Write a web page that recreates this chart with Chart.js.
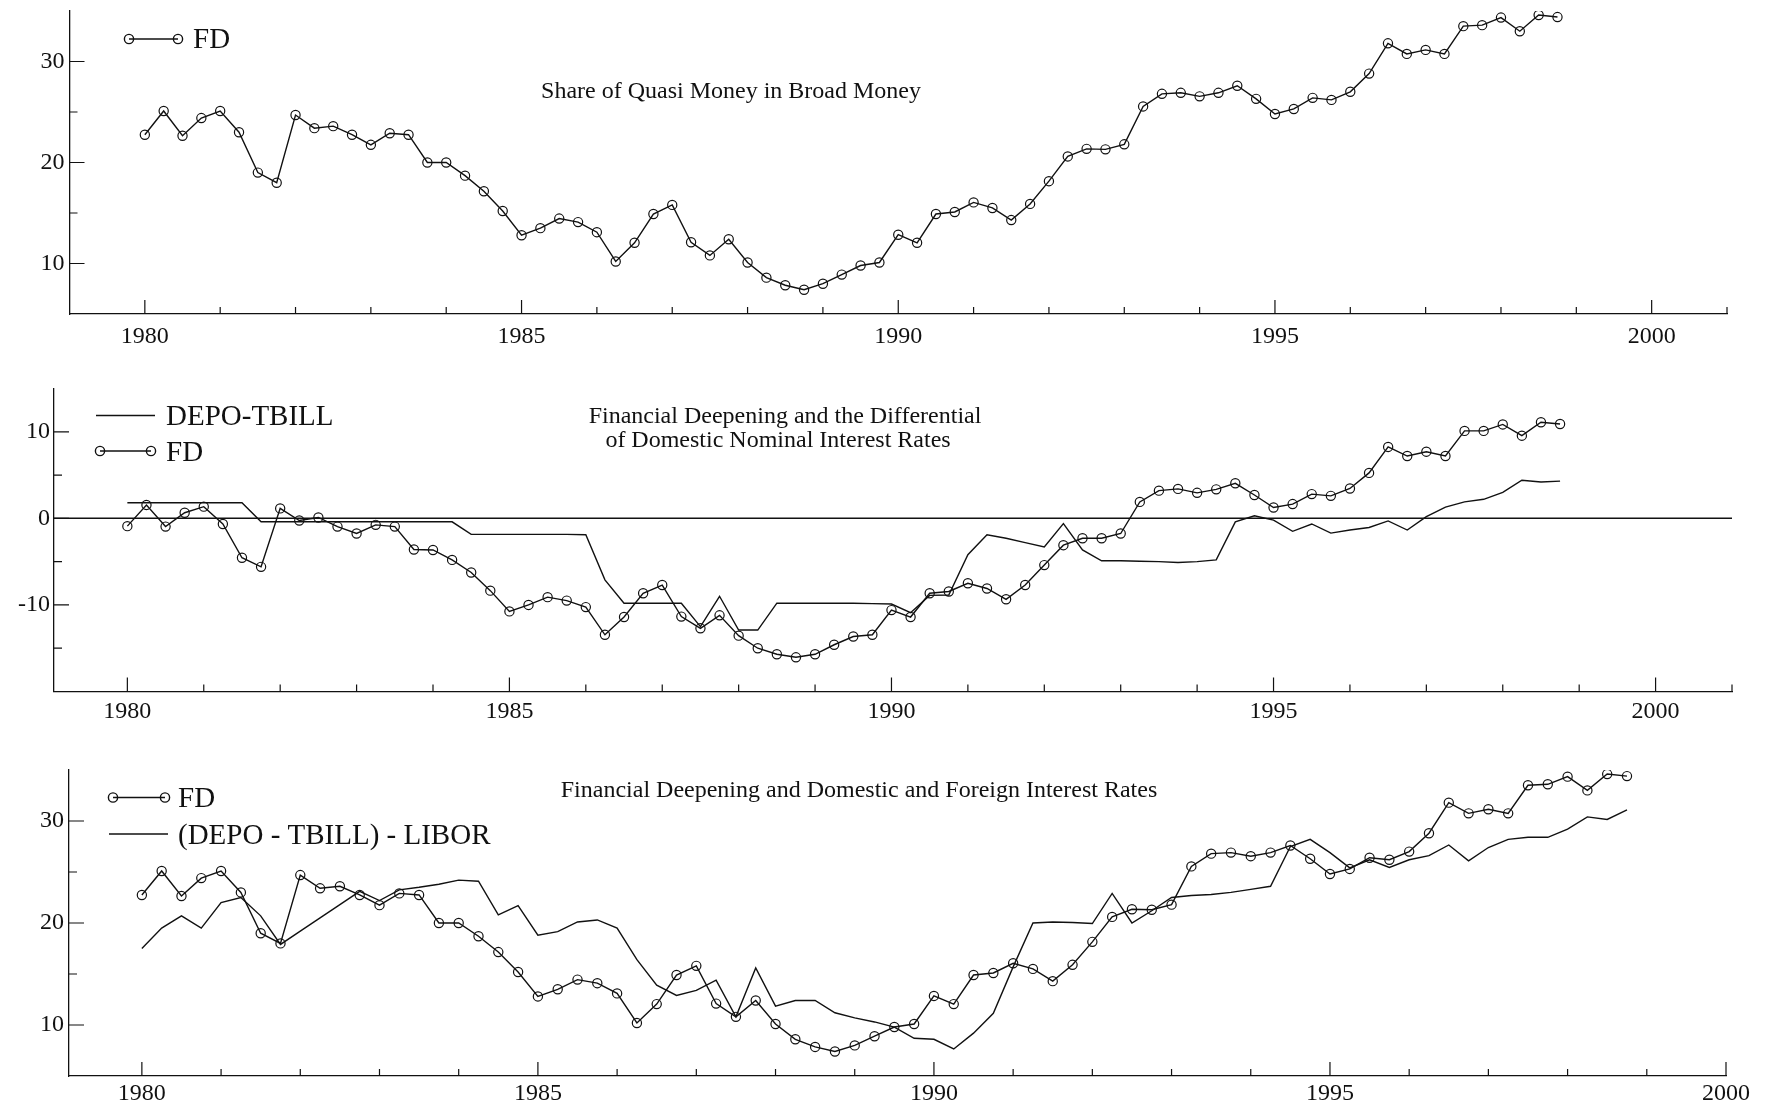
<!DOCTYPE html>
<html>
<head>
<meta charset="utf-8">
<title>Financial Deepening</title>
<script src="https://cdn.jsdelivr.net/npm/chart.js@4.4.1/dist/chart.umd.min.js"></script>
<style>
  html, body { margin: 0; padding: 0; background: #fff; }
  body { width: 1769px; height: 1112px; position: relative; overflow: hidden; }
  canvas { position: absolute; left: 0; }
</style>
</head>
<body>
<canvas id="share" width="1769" height="370" style="top:0px"></canvas>
<canvas id="differential" width="1769" height="380" style="top:370px"></canvas>
<canvas id="foreign" width="1769" height="362" style="top:750px"></canvas>

<script>
// quarterly observations, 1980Q1 - 1998Q4
const years = [1980, 1981, 1982, 1983, 1984, 1985, 1986, 1987, 1988, 1989,
               1990, 1991, 1992, 1993, 1994, 1995, 1996, 1997, 1998];
const quarterStep = [0, 0.25, 0.5, 0.75];

// FD : share of quasi money in broad money (top and bottom panels)
const fdShare = [
  22.75, 25.1, 22.65, 24.4,
  25.1, 23.0, 19.0, 18.0,
  24.7, 23.4, 23.6, 22.75,
  21.75, 22.9, 22.75, 20.0,
  20.0, 18.7, 17.15, 15.2,
  12.8, 13.5, 14.45, 14.1,
  13.1, 10.2, 12.05, 14.9,
  15.8, 12.1, 10.8, 12.4,
  10.1, 8.6, 7.85, 7.4,
  8.0, 8.9, 9.8, 10.1,
  12.85, 12.05, 14.9, 15.1,
  16.05, 15.5, 14.3, 15.9,
  18.15, 20.6, 21.35, 21.3,
  21.8, 25.55, 26.8, 26.9,
  26.55, 26.9, 27.6, 26.3,
  24.8, 25.3, 26.4, 26.2,
  27.0, 28.8, 31.8, 30.75,
  31.15, 30.75, 33.5, 33.6,
  34.35, 33.0, 34.6, 34.4
];

// FD as plotted in the middle panel (centred)
const fdCentred = [
  -0.9, 1.55, -0.95, 0.65,
  1.35, -0.65, -4.55, -5.6,
  1.15, -0.25, 0.1, -0.95,
  -1.75, -0.75, -0.95, -3.6,
  -3.65, -4.8, -6.25, -8.35,
  -10.75, -10.0, -9.1, -9.5,
  -10.25, -13.45, -11.4, -8.65,
  -7.7, -11.35, -12.7, -11.2,
  -13.55, -15.0, -15.7, -16.05,
  -15.7, -14.6, -13.65, -13.45,
  -10.6, -11.4, -8.65, -8.45,
  -7.5, -8.1, -9.35, -7.7,
  -5.4, -3.1, -2.3, -2.3,
  -1.75, 1.9, 3.2, 3.4,
  2.95, 3.35, 4.05, 2.7,
  1.25, 1.65, 2.8, 2.6,
  3.45, 5.25, 8.25, 7.2,
  7.7, 7.2, 10.1, 10.1,
  10.85, 9.55, 11.1, 10.9
];

// DEPO-TBILL
const depoTbill = [
  1.8, 1.8, 1.8, 1.8,
  1.8, 1.8, 1.8, -0.4,
  -0.4, -0.4, -0.4, -0.4,
  -0.4, -0.4, -0.4, -0.4,
  -0.4, -0.4, -1.85, -1.85,
  -1.85, -1.85, -1.85, -1.85,
  -1.9, -7.1, -9.8, -9.8,
  -9.8, -9.8, -12.5, -9.0,
  -12.9, -12.9, -9.8, -9.8,
  -9.8, -9.8, -9.8, -9.85,
  -9.9, -10.9, -8.9, -8.85,
  -4.2, -1.9, -2.3, -2.8,
  -3.3, -0.6, -3.65, -4.9,
  -4.9, -4.95, -5.0, -5.1,
  -5.0, -4.8, -0.4, 0.3,
  -0.2, -1.5, -0.65, -1.7,
  -1.35, -1.05, -0.3, -1.35,
  0.2, 1.3, 1.9, 2.2,
  3.0, 4.4, 4.2, 4.3
];

// (DEPO - TBILL) - LIBOR
const depoTbillLibor = [
  17.5, 19.5, 20.7, 19.5,
  22.0, 22.5, 20.7, 17.9,
  19.2, 20.5, 21.8, 23.1,
  22.2, 23.25, 23.5, 23.8,
  24.2, 24.1, 20.8, 21.7,
  18.8, 19.15, 20.1, 20.3,
  19.5, 16.4, 13.9, 12.9,
  13.4, 14.4, 10.8, 15.6,
  11.85, 12.4, 12.4, 11.2,
  10.7, 10.3, 9.8, 8.7,
  8.6, 7.65, 9.2, 11.15,
  15.7, 20.0, 20.1, 20.05,
  19.95, 22.9, 20.0, 21.2,
  22.5, 22.7, 22.8, 23.0,
  23.3, 23.6, 27.5, 28.2,
  26.9, 25.4, 26.2, 25.45,
  26.2, 26.6, 27.65, 26.1,
  27.4, 28.2, 28.4, 28.4,
  29.2, 30.4, 30.15, 31.1
];

const xTickLabels = [1980, 1985, 1990, 1995, 2000];
const yTicksLevel = [10, 20, 30];
const yMinorLevel = [15, 25];
const yTicksDiff = [-10, 0, 10];
const yMinorDiff = [-15, -5, 5];

const SERIF = '"Liberation Serif", "Times New Roman", Times, serif';
const INK = '#111';
const X_AXIS_H = 34;

const dates = years.flatMap(y => quarterStep.map(q => y + q));
const toPoints = values => values.map((v, i) => ({ x: dates[i], y: v }));

function fdDataset(values) {
  return {
    label: 'FD', data: toPoints(values),
    borderColor: INK, borderWidth: 1.4, tension: 0,
    pointRadius: 4.6, pointBorderWidth: 1.2,
    pointBorderColor: INK, pointBackgroundColor: 'rgba(0,0,0,0)'
  };
}
function lineDataset(label, values) {
  return { label, data: toPoints(values), borderColor: INK, borderWidth: 1.4, tension: 0, pointRadius: 0 };
}

// inward ticks, titles, legend samples, zero line
function makeDecor(p) {
  return {
    id: 'paperDecor',
    beforeDatasetsDraw(chart) {
      if (!p.zeroLine) return;
      const { ctx, chartArea: a, scales: { y } } = chart;
      const py = y.getPixelForValue(0);
      ctx.save();
      ctx.strokeStyle = INK; ctx.lineWidth = 1.5;
      ctx.beginPath(); ctx.moveTo(a.left, py); ctx.lineTo(a.right, py); ctx.stroke();
      ctx.restore();
    },
    afterDraw(chart) {
      const { ctx, chartArea: a, scales: { x, y } } = chart;
      ctx.save();
      ctx.strokeStyle = INK; ctx.lineWidth = 1.2;
      ctx.beginPath();
      for (let yr = Math.floor(x.min) + 1; yr <= x.max; yr++) {
        const px = x.getPixelForValue(yr);
        const len = yr % 5 === 0 ? 14 : 7;
        ctx.moveTo(px, a.bottom); ctx.lineTo(px, a.bottom - len);
      }
      p.yTicks.forEach(v => {
        const py = y.getPixelForValue(v);
        ctx.moveTo(a.left, py); ctx.lineTo(a.left + 15, py);
      });
      p.yMinor.forEach(v => {
        const py = y.getPixelForValue(v);
        ctx.moveTo(a.left, py); ctx.lineTo(a.left + 8, py);
      });
      ctx.stroke();

      ctx.fillStyle = INK;
      ctx.font = '24px ' + SERIF;
      ctx.textAlign = 'center';
      ctx.textBaseline = 'alphabetic';
      p.title.forEach(t => ctx.fillText(t.text, t.x, t.y));

      ctx.lineWidth = 1.4;
      p.legend.forEach(item => {
        ctx.beginPath(); ctx.moveTo(item.x0, item.y); ctx.lineTo(item.x1, item.y); ctx.stroke();
        if (item.markers) {
          [item.x0, item.x1].forEach(cx => {
            ctx.beginPath(); ctx.arc(cx, item.y, 4.6, 0, Math.PI * 2); ctx.stroke();
          });
        }
        ctx.font = '29px ' + SERIF;
        ctx.textAlign = 'left';
        ctx.fillText(item.text, item.tx, item.ty);
      });
      ctx.restore();
    }
  };
}

function makeChart(p) {
  const canvas = document.getElementById(p.id);
  const H = canvas.height;
  return new Chart(canvas, {
    type: 'line',
    data: { datasets: p.datasets },
    options: {
      responsive: false,
      animation: false,
      layout: { padding: { top: p.area.top, left: 0, right: canvas.width - p.area.right, bottom: H - p.area.bottom - X_AXIS_H } },
      plugins: { legend: { display: false }, tooltip: { enabled: false }, title: { display: false } },
      scales: {
        x: {
          type: 'linear', min: p.xMin, max: p.xMax,
          afterBuildTicks: s => { s.ticks = xTickLabels.map(v => ({ value: v })); },
          afterFit: s => { s.height = X_AXIS_H; s.paddingLeft = 0; s.paddingRight = 0; },
          grid: { display: false, drawTicks: false },
          border: { display: true, color: INK, width: 1.3 },
          ticks: { autoSkip: false, maxRotation: 0, padding: p.xPad, color: INK,
                   font: { family: SERIF, size: 24 }, callback: v => String(v) }
        },
        y: {
          min: p.yMin, max: p.yMax,
          afterBuildTicks: s => { s.ticks = p.yTicks.map(v => ({ value: v })); },
          afterFit: s => { s.width = p.area.left; s.paddingTop = 0; s.paddingBottom = 0; },
          grid: { display: false, drawTicks: false },
          border: { display: true, color: INK, width: 1.3 },
          ticks: { autoSkip: false, padding: p.yPad, color: INK,
                   font: { family: SERIF, size: 24 }, callback: v => String(v) }
        }
      }
    },
    plugins: [makeDecor(p)]
  });
}

makeChart({
  id: 'share',
  area: { left: 69.5, right: 1727, top: 11, bottom: 314 },
  xMin: 1979, xMax: 2001, yMin: 5, yMax: 35, xPad: 8, yPad: 5,
  yTicks: yTicksLevel, yMinor: yMinorLevel,
  datasets: [fdDataset(fdShare)],
  title: [{ text: 'Share of Quasi Money in Broad Money', x: 731, y: 98 }],
  legend: [{ text: 'FD', markers: true, x0: 129, x1: 178, y: 39, tx: 193, ty: 48 }]
});

makeChart({
  id: 'differential',
  area: { left: 54, right: 1732, top: 18.5, bottom: 321.5 },
  xMin: 1979.04, xMax: 2001, yMin: -20, yMax: 15, xPad: 6, yPad: 4,
  yTicks: yTicksDiff, yMinor: yMinorDiff, zeroLine: true,
  datasets: [lineDataset('DEPO-TBILL', depoTbill), fdDataset(fdCentred)],
  title: [
    { text: 'Financial Deepening and the Differential', x: 785, y: 53 },
    { text: 'of Domestic Nominal Interest Rates', x: 778, y: 77 }
  ],
  legend: [
    { text: 'DEPO-TBILL', markers: false, x0: 96, x1: 155, y: 45.5, tx: 166, ty: 55 },
    { text: 'FD', markers: true, x0: 100, x1: 151, y: 81, tx: 166, ty: 91 }
  ]
});

makeChart({
  id: 'foreign',
  area: { left: 69, right: 1726, top: 20, bottom: 326 },
  xMin: 1979.08, xMax: 2000, yMin: 5, yMax: 35, xPad: 3, yPad: 5,
  yTicks: yTicksLevel, yMinor: yMinorLevel,
  datasets: [fdDataset(fdShare), lineDataset('(DEPO - TBILL) - LIBOR', depoTbillLibor)],
  title: [{ text: 'Financial Deepening and Domestic and Foreign Interest Rates', x: 859, y: 47 }],
  legend: [
    { text: 'FD', markers: true, x0: 113, x1: 165, y: 47.5, tx: 178, ty: 57 },
    { text: '(DEPO - TBILL) - LIBOR', markers: false, x0: 109, x1: 168, y: 84, tx: 178, ty: 94 }
  ]
});
</script>
</body>
</html>
